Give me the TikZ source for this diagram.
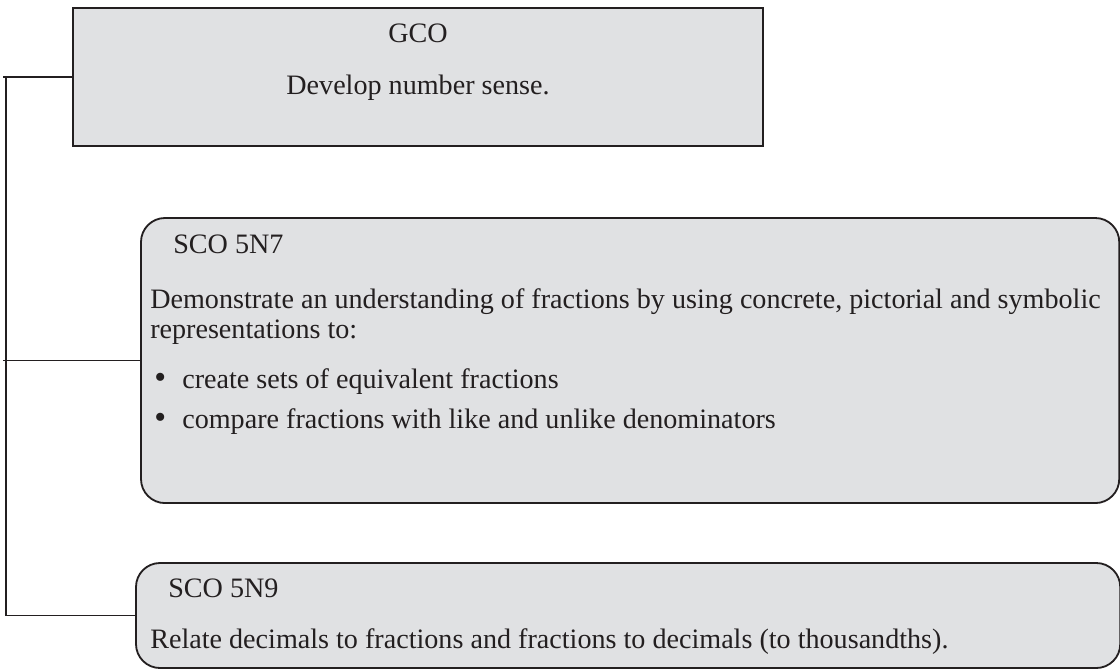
\documentclass[tikz,border=0pt]{standalone}
\usepackage{fontspec}
\setmainfont{Liberation Serif}
\usepackage{xcolor}
\definecolor{BoxGray}{HTML}{E0E1E3}
\definecolor{LineBlack}{HTML}{231F20}
\definecolor{TextBlack}{HTML}{231F20}
\usetikzlibrary{positioning,calc}

\begin{document}
\begin{tikzpicture}[x=0.025cm,y=-0.025cm,
  font=\fontsize{20}{24}\selectfont,
  gbox/.style={fill=BoxGray,draw=LineBlack,line width=1.3pt,inner sep=0pt,outer sep=0pt,anchor=north west},
  sbox/.style={gbox,rounded corners=0.6cm},
  lbl/.style={text=TextBlack,inner sep=0pt,anchor=base west},
  link/.style={draw=LineBlack,line width=1.3pt}]
\useasboundingbox (0,0) rectangle (1120,670);
% outcome boxes
\node[gbox,minimum width=17.25cm,minimum height=3.45cm] (gco) at (73,8) {};
\node[sbox,minimum width=24.45cm,minimum height=7.125cm] (sco7) at (141,218) {};
\node[sbox,minimum width=24.6cm,minimum height=2.625cm] (sco9) at (136,563) {};
% general outcome
\node[lbl,anchor=base] (gcoT) at (418,43) {GCO};
\node[lbl,anchor=base] (gcoD) at (418,95) {Develop number sense.};
% SCO 5N7
\node[lbl] (s7T) at (173,253) {SCO 5N7};
\node[lbl] (s7a) at (150,308) {Demonstrate an understanding of fractions by using concrete, pictorial and symbolic};
\node[lbl] (s7b) at (150,338) {representations to:};
\foreach \t/\yy [count=\i] in {{create sets of equivalent fractions}/388,
  {compare fractions with like and unlike denominators}/428} {
  \node[lbl] (dot\i) at (154,\yy) {\fontsize{24}{24}\selectfont\textbullet};
  \node[lbl] (s7c\i) at (182,\yy) {\t};
}
% SCO 5N9
\node[lbl] (s9T) at (168,597) {SCO 5N9};
\node[lbl] (s9a) at (150,648) {Relate decimals to fractions and fractions to decimals (to thousandths).};
% connectors
\coordinate (trunk) at (6,0);
\coordinate (edge) at (3,0);
\draw[link] (gco.west) -- (gco.west -| edge);
\draw[link] (sco7.west) -- (sco7.west -| edge);
\draw[link] (gco.west -| trunk) -- (sco9.west -| trunk) -- (sco9.west);
\end{tikzpicture}
\end{document}
